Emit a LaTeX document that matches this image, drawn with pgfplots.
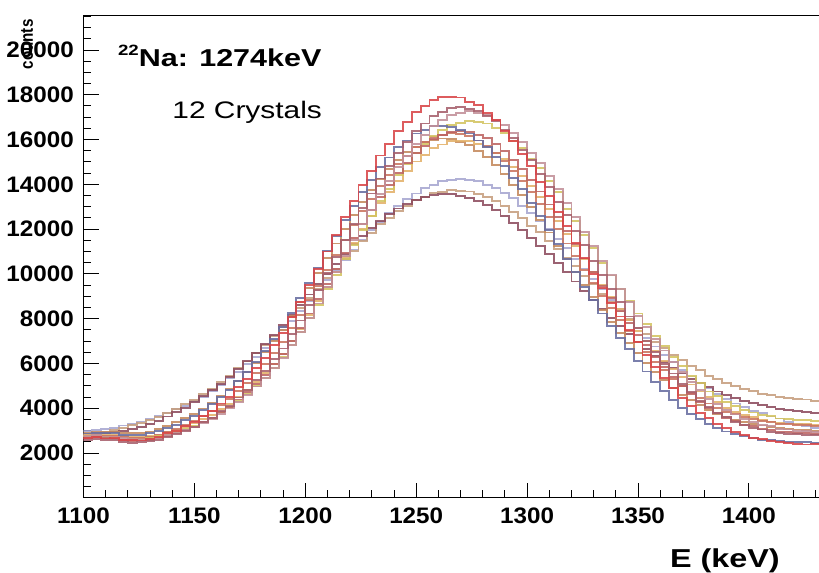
\documentclass[border=0pt]{standalone}
\usepackage{pgfplots}
\pgfplotsset{compat=1.18}
\usepackage{fontspec}
\setmainfont{Liberation Sans}
\newfontfamily\tickfont{Liberation Sans}[FakeStretch=1.08]
\newfontfamily\widefont{Liberation Sans}[FakeStretch=1.25]
\newfontfamily\titlefont{Liberation Sans}[FakeStretch=1.25]
\newfontfamily\narrowfont{Liberation Sans}[FakeStretch=0.85]
\definecolor{c1}{HTML}{D84548}
\definecolor{c2}{HTML}{A6606C}
\definecolor{c3}{HTML}{C28F98}
\definecolor{c4}{HTML}{D3C461}
\definecolor{c5}{HTML}{686DA0}
\definecolor{c6}{HTML}{C9745F}
\definecolor{c7}{HTML}{E3B069}
\definecolor{c8}{HTML}{C4895C}
\definecolor{c9}{HTML}{BD6462}
\definecolor{c10}{HTML}{A6A6D0}
\definecolor{c11}{HTML}{C69E7E}
\definecolor{c12}{HTML}{8D4C5E}
\begin{document}
\begin{tikzpicture}
\useasboundingbox (-83.5bp,-75.2bp) rectangle (735.5bp,497.8bp);
\begin{axis}[
  at={(0,0)}, anchor=south west,
  scale only axis, width=735.5bp, height=481.8bp,
  xmin=1100, xmax=1431.6, ymin=0, ymax=21520,
  axis line style={line width=1bp, black},
  tick align=inside, xtick pos=bottom, ytick pos=left,
  xtick={1100,1150,...,1400}, minor xtick={1110,1120,...,1430},
  ytick={2000,4000,...,20000}, minor ytick={500,1000,...,21500},
  major tick length=15bp, minor tick length=8bp,
  tick style={line width=1bp, black},
  scaled y ticks=false, scaled x ticks=false,
  /pgf/number format/assume math mode=true,
  /pgf/number format/1000 sep={},
  tick label style={font=\tickfont\bfseries\fontsize{22.5}{22.5}\selectfont},
  yticklabel style={anchor=east, inner sep=0pt, xshift=-9.5bp},
  xticklabel style={anchor=north, inner sep=0pt, yshift=-10bp},
  every axis plot/.append style={line width=1.9bp, const plot, no markers, opacity=0.88},
]
\addplot[c10] table[row sep=\\] {x y\\
1100 2980\\1104 3010\\1108 3090\\1112 3130\\1116 3230\\1120 3290\\1124 3410\\1128 3500\\1132 3650\\1136 3770\\
1140 3950\\1144 4100\\1148 4320\\1152 4520\\1156 4780\\1160 5020\\1164 5330\\1168 5610\\1172 5960\\1176 6300\\
1180 6680\\1184 7050\\1188 7490\\1192 7890\\1196 8360\\1200 8780\\1204 9260\\1208 9710\\1212 10190\\1216 10620\\
1220 11090\\1224 11500\\1228 11950\\1232 12310\\1236 12710\\1240 13020\\1244 13350\\1248 13590\\1252 13840\\1256 13970\\
1260 14130\\1264 14190\\1268 14240\\1272 14180\\1276 14150\\1280 13990\\1284 13850\\1288 13600\\1292 13380\\1296 13050\\
1300 12740\\1304 12340\\1308 11990\\1312 11540\\1316 11140\\1320 10670\\1324 10240\\1328 9760\\1332 9320\\1336 8840\\
1340 8420\\1344 7950\\1348 7560\\1352 7130\\1356 6760\\1360 6380\\1364 6050\\1368 5700\\1372 5420\\1376 5120\\
1380 4880\\1384 4620\\1388 4430\\1392 4210\\1396 4070\\1400 3890\\1404 3770\\1408 3630\\1412 3540\\1416 3380\\
1420 3290\\1424 3200\\1428 3130\\1432 3130\\
};
\addplot[c11] table[row sep=\\] {x y\\
1100 2800\\1104 2870\\1108 2930\\1112 3040\\1116 3110\\1120 3240\\1124 3330\\1128 3490\\1132 3610\\1136 3800\\
1140 3950\\1144 4180\\1148 4360\\1152 4630\\1156 4860\\1160 5170\\1164 5430\\1168 5780\\1172 6090\\1176 6470\\
1180 6810\\1184 7240\\1188 7610\\1192 8070\\1196 8460\\1200 8930\\1204 9340\\1208 9810\\1212 10200\\1216 10670\\
1220 11040\\1224 11490\\1228 11820\\1232 12210\\1236 12500\\1240 12830\\1244 13050\\1248 13300\\1252 13440\\1256 13610\\
1260 13670\\1264 13740\\1268 13710\\1272 13680\\1276 13560\\1280 13450\\1284 13240\\1288 13050\\1292 12770\\1296 12510\\
1300 12160\\1304 11860\\1308 11460\\1312 11120\\1316 10700\\1320 10340\\1324 9900\\1328 9530\\1332 9100\\1336 8750\\
1340 8320\\1344 7990\\1348 7600\\1352 7300\\1356 6960\\1360 6690\\1364 6370\\1368 6150\\1372 5880\\1376 5690\\
1380 5460\\1384 5310\\1388 5120\\1392 5010\\1396 4860\\1400 4780\\1404 4650\\1408 4600\\1412 4510\\1416 4470\\
1420 4400\\1424 4390\\1428 4340\\1432 4340\\
};
\addplot[c12] table[row sep=\\] {x y\\
1100 2750\\1104 2820\\1108 2880\\1112 2950\\1116 3000\\1120 3070\\1124 3170\\1128 3290\\1132 3450\\1136 3630\\
1140 3820\\1144 4030\\1148 4270\\1152 4530\\1156 4810\\1160 5090\\1164 5410\\1168 5750\\1172 6110\\1176 6480\\
1180 6870\\1184 7270\\1188 7700\\1192 8150\\1196 8610\\1200 9080\\1204 9540\\1208 10000\\1212 10450\\1216 10890\\
1220 11320\\1224 11690\\1228 12040\\1232 12370\\1236 12660\\1240 12920\\1244 13130\\1248 13300\\1252 13440\\1256 13520\\
1260 13560\\1264 13550\\1268 13500\\1272 13390\\1276 13250\\1280 13070\\1284 12840\\1288 12590\\1292 12290\\1296 11970\\
1300 11620\\1304 11250\\1308 10870\\1312 10470\\1316 10070\\1320 9660\\1324 9250\\1328 8840\\1332 8450\\1336 8050\\
1340 7680\\1344 7320\\1348 6980\\1352 6650\\1356 6340\\1360 6060\\1364 5800\\1368 5550\\1372 5320\\1376 5120\\
1380 4930\\1384 4750\\1388 4600\\1392 4450\\1396 4330\\1400 4220\\1404 4130\\1408 4040\\1412 3980\\1416 3910\\
1420 3860\\1424 3820\\1428 3780\\1432 3780\\
};
\addplot[c8] table[row sep=\\] {x y\\
1100 2910\\1104 2950\\1108 2940\\1112 2950\\1116 2900\\1120 2880\\1124 2910\\1128 2960\\1132 3080\\1136 3210\\
1140 3370\\1144 3550\\1148 3750\\1152 3990\\1156 4240\\1160 4530\\1164 4860\\1168 5230\\1172 5610\\1176 6040\\
1180 6500\\1184 7000\\1188 7510\\1192 8120\\1196 8740\\1200 9390\\1204 10030\\1208 10710\\1212 11360\\1216 12020\\
1220 12650\\1224 13230\\1228 13750\\1232 14250\\1236 14690\\1240 15090\\1244 15430\\1248 15680\\1252 15880\\1256 16000\\
1260 16050\\1264 16010\\1268 15910\\1272 15760\\1276 15500\\1280 15220\\1284 14850\\1288 14450\\1292 13990\\1296 13520\\
1300 12980\\1304 12420\\1308 11850\\1312 11260\\1316 10670\\1320 10080\\1324 9500\\1328 8950\\1332 8400\\1336 7870\\
1340 7380\\1344 6910\\1348 6450\\1352 6010\\1356 5620\\1360 5250\\1364 4920\\1368 4600\\1372 4350\\1376 4130\\
1380 3930\\1384 3750\\1388 3610\\1392 3490\\1396 3390\\1400 3300\\1404 3230\\1408 3170\\1412 3120\\1416 3080\\
1420 3050\\1424 3030\\1428 3000\\1432 3000\\
};
\addplot[c7] table[row sep=\\] {x y\\
1100 2820\\1104 2850\\1108 2820\\1112 2820\\1116 2750\\1120 2710\\1124 2710\\1128 2750\\1132 2820\\1136 2930\\
1140 3030\\1144 3180\\1148 3320\\1152 3510\\1156 3700\\1160 3950\\1164 4190\\1168 4490\\1172 4810\\1176 5180\\
1180 5560\\1184 5990\\1188 6440\\1192 7000\\1196 7550\\1200 8160\\1204 8780\\1208 9430\\1212 10070\\1216 10740\\
1220 11380\\1224 12000\\1228 12570\\1232 13150\\1236 13670\\1240 14170\\1244 14600\\1248 15020\\1252 15330\\1256 15610\\
1260 15780\\1264 15920\\1268 15950\\1272 15930\\1276 15820\\1280 15680\\1284 15410\\1288 15140\\1292 14770\\1296 14380\\
1300 13910\\1304 13440\\1308 12900\\1312 12370\\1316 11800\\1320 11240\\1324 10650\\1328 10090\\1332 9500\\1336 8980\\
1340 8430\\1344 7930\\1348 7440\\1352 7000\\1356 6540\\1360 6120\\1364 5740\\1368 5380\\1372 5060\\1376 4750\\
1380 4500\\1384 4280\\1388 4020\\1392 3840\\1396 3690\\1400 3590\\1404 3490\\1408 3410\\1412 3340\\1416 3320\\
1420 3300\\1424 3280\\1428 3260\\1432 3260\\
};
\addplot[c6] table[row sep=\\] {x y\\
1100 2740\\1104 2780\\1108 2750\\1112 2760\\1116 2700\\1120 2670\\1124 2680\\1128 2730\\1132 2820\\1136 2950\\
1140 3080\\1144 3250\\1148 3420\\1152 3650\\1156 3870\\1160 4150\\1164 4430\\1168 4790\\1172 5140\\1176 5570\\
1180 5980\\1184 6480\\1188 6970\\1192 7570\\1196 8160\\1200 8830\\1204 9470\\1208 10170\\1212 10830\\1216 11520\\
1220 12170\\1224 12800\\1228 13360\\1232 13940\\1236 14410\\1240 14900\\1244 15280\\1248 15650\\1252 15890\\1256 16120\\
1260 16220\\1264 16290\\1268 16230\\1272 16150\\1276 15960\\1280 15730\\1284 15400\\1288 15060\\1292 14610\\1296 14170\\
1300 13640\\1304 13130\\1308 12530\\1312 11990\\1316 11360\\1320 10790\\1324 10170\\1328 9610\\1332 9020\\1336 8490\\
1340 7940\\1344 7470\\1348 6970\\1352 6530\\1356 6080\\1360 5700\\1364 5310\\1368 5010\\1372 4670\\1376 4440\\
1380 4210\\1384 4030\\1388 3840\\1392 3730\\1396 3590\\1400 3520\\1404 3420\\1408 3380\\1412 3310\\1416 3290\\
1420 3250\\1424 3240\\1428 3220\\1432 3220\\
};
\addplot[c4] table[row sep=\\] {x y\\
1096 2750\\1100 2760\\1104 2750\\1108 2720\\1112 2670\\1116 2590\\1120 2610\\1124 2600\\1128 2680\\1132 2750\\
1136 2850\\1140 2940\\1144 3090\\1148 3210\\1152 3400\\1156 3570\\1160 3810\\1164 4040\\1168 4340\\1172 4620\\
1176 5000\\1180 5350\\1184 5800\\1188 6270\\1192 6840\\1196 7390\\1200 8020\\1204 8620\\1208 9310\\1212 9960\\
1216 10680\\1220 11300\\1224 11970\\1228 12590\\1232 13240\\1236 13810\\1240 14400\\1244 14900\\1248 15400\\1252 15790\\
1256 16170\\1260 16430\\1264 16660\\1268 16760\\1272 16850\\1276 16780\\1280 16720\\1284 16510\\1288 16300\\1292 15950\\
1296 15620\\1300 15150\\1304 14720\\1308 14170\\1312 13650\\1316 12910\\1320 12360\\1324 11720\\1328 11140\\1332 10500\\
1336 9930\\1340 9340\\1344 8800\\1348 8230\\1352 7760\\1356 7240\\1360 6780\\1364 6280\\1368 5880\\1372 5460\\
1376 5130\\1380 4750\\1384 4530\\1388 4280\\1392 4110\\1396 3920\\1400 3810\\1404 3690\\1408 3640\\1412 3540\\
1416 3520\\1420 3460\\1424 3460\\1428 3450\\1432 3450\\
};
\addplot[c9] table[row sep=\\] {x y\\
1100 2670\\1104 2700\\1108 2680\\1112 2650\\1116 2600\\1120 2550\\1124 2560\\1128 2580\\1132 2660\\1136 2770\\
1140 2870\\1144 3020\\1148 3170\\1152 3370\\1156 3570\\1160 3820\\1164 4070\\1168 4390\\1172 4720\\1176 5100\\
1180 5500\\1184 5960\\1188 6430\\1192 7010\\1196 7580\\1200 8230\\1204 8860\\1208 9550\\1212 10210\\1216 10930\\
1220 11590\\1224 12240\\1228 12840\\1232 13450\\1236 13990\\1240 14520\\1244 14970\\1248 15410\\1252 15730\\1256 16030\\
1260 16200\\1264 16350\\1268 16370\\1272 16350\\1276 16220\\1280 16060\\1284 15790\\1288 15490\\1292 15090\\1296 14670\\
1300 14180\\1304 13680\\1308 13100\\1312 12530\\1316 11920\\1320 11330\\1324 10690\\1328 10100\\1332 9480\\1336 8920\\
1340 8330\\1344 7800\\1348 7280\\1352 6810\\1356 6290\\1360 5830\\1364 5380\\1368 5000\\1372 4620\\1376 4280\\
1380 4010\\1384 3800\\1388 3580\\1392 3420\\1396 3270\\1400 3190\\1404 3080\\1408 3030\\1412 2950\\1416 2930\\
1420 2890\\1424 2890\\1428 2860\\1432 2860\\
};
\addplot[c5] table[row sep=\\] {x y\\
1100 2870\\1104 2910\\1108 2880\\1112 2890\\1116 2820\\1120 2810\\1124 2820\\1128 2890\\1132 2980\\1136 3130\\
1140 3270\\1144 3480\\1148 3660\\1152 3930\\1156 4170\\1160 4490\\1164 4820\\1168 5210\\1172 5610\\1176 6080\\
1180 6540\\1184 7090\\1188 7610\\1192 8270\\1196 8910\\1200 9610\\1204 10280\\1208 11010\\1212 11680\\1216 12390\\
1220 13040\\1224 13670\\1228 14210\\1232 14760\\1236 15200\\1240 15650\\1244 15960\\1248 16270\\1252 16430\\1256 16590\\
1260 16600\\1264 16570\\1268 16420\\1272 16270\\1276 15960\\1280 15670\\1284 15240\\1288 14820\\1292 14290\\1296 13780\\
1300 13170\\1304 12590\\1308 11950\\1312 11340\\1316 10680\\1320 10070\\1324 9420\\1328 8850\\1332 8230\\1336 7690\\
1340 7140\\1344 6650\\1348 6110\\1352 5640\\1356 5170\\1360 4770\\1364 4370\\1368 4030\\1372 3740\\1376 3520\\
1380 3290\\1384 3120\\1388 2960\\1392 2860\\1396 2750\\1400 2680\\1404 2600\\1408 2570\\1412 2520\\1416 2510\\
1420 2480\\1424 2480\\1428 2450\\1432 2450\\
};
\addplot[c3] table[row sep=\\] {x y\\
1100 2760\\1104 2790\\1108 2740\\1112 2740\\1116 2660\\1120 2620\\1124 2600\\1128 2630\\1132 2690\\1136 2790\\
1140 2880\\1144 3020\\1148 3150\\1152 3340\\1156 3510\\1160 3750\\1164 3990\\1168 4290\\1172 4590\\1176 4970\\
1180 5340\\1184 5800\\1188 6250\\1192 6830\\1196 7400\\1200 8050\\1204 8680\\1208 9400\\1212 10070\\1216 10820\\
1220 11520\\1224 12230\\1228 12860\\1232 13550\\1236 14130\\1240 14770\\1244 15270\\1248 15800\\1252 16200\\1256 16600\\
1260 16860\\1264 17090\\1268 17190\\1272 17260\\1276 17200\\1280 17110\\1284 16890\\1288 16650\\1292 16290\\1296 15910\\
1300 15420\\1304 14940\\1308 14360\\1312 13800\\1316 13150\\1320 12550\\1324 11870\\1328 11250\\1332 10570\\1336 9960\\
1340 9330\\1344 8750\\1348 8140\\1352 7630\\1356 7090\\1360 6580\\1364 6060\\1368 5630\\1372 5180\\1376 4820\\
1380 4430\\1384 4180\\1388 3920\\1392 3720\\1396 3520\\1400 3390\\1404 3260\\1408 3190\\1412 3090\\1416 3050\\
1420 2990\\1424 2970\\1428 2940\\1432 2940\\
};
\addplot[c2] table[row sep=\\] {x y\\
1100 2580\\1104 2610\\1108 2570\\1112 2590\\1116 2500\\1120 2460\\1124 2490\\1128 2520\\1132 2590\\1136 2720\\
1140 2830\\1144 2990\\1148 3150\\1152 3370\\1156 3580\\1160 3860\\1164 4120\\1168 4480\\1172 4820\\1176 5250\\
1180 5670\\1184 6180\\1188 6670\\1192 7310\\1196 7920\\1200 8620\\1204 9300\\1208 10050\\1212 10750\\1216 11530\\
1220 12240\\1224 12950\\1228 13590\\1232 14260\\1236 14840\\1240 15420\\1244 15900\\1248 16380\\1252 16720\\1256 17060\\
1260 17220\\1264 17400\\1268 17450\\1272 17360\\1276 17290\\1280 17050\\1284 16810\\1288 16430\\1292 16060\\1296 15550\\
1300 15070\\1304 14470\\1308 13900\\1312 13220\\1316 12630\\1320 11920\\1324 11300\\1328 10590\\1332 9970\\1336 9320\\
1340 8730\\1344 8100\\1348 7590\\1352 7020\\1356 6520\\1360 5980\\1364 5550\\1368 5080\\1372 4720\\1376 4320\\
1380 4060\\1384 3790\\1388 3600\\1392 3380\\1396 3260\\1400 3120\\1404 3050\\1408 2940\\1412 2910\\1416 2840\\
1420 2830\\1424 2790\\1428 2790\\1432 2790\\
};
\addplot[c1] table[row sep=\\] {x y\\
1100 2660\\1104 2700\\1108 2650\\1112 2670\\1116 2590\\1120 2580\\1124 2560\\1128 2640\\1132 2720\\1136 2880\\
1140 3000\\1144 3210\\1148 3380\\1152 3640\\1156 3880\\1160 4210\\1164 4500\\1168 4930\\1172 5300\\1176 5800\\
1180 6260\\1184 6840\\1188 7380\\1192 8070\\1196 8730\\1200 9500\\1204 10200\\1208 11000\\1212 11730\\1216 12540\\
1220 13250\\1224 13990\\1228 14610\\1232 15290\\1236 15810\\1240 16380\\1244 16800\\1248 17230\\1252 17480\\1256 17750\\
1260 17900\\1264 17920\\1268 17880\\1272 17690\\1276 17540\\1280 17190\\1284 16880\\1288 16400\\1292 15940\\1296 15350\\
1300 14800\\1304 14120\\1308 13490\\1312 12780\\1316 12120\\1320 11380\\1324 10720\\1328 9990\\1332 9380\\1336 8690\\
1340 8100\\1344 7480\\1348 6960\\1352 6360\\1356 5860\\1360 5340\\1364 4910\\1368 4470\\1372 4110\\1376 3780\\
1380 3550\\1384 3290\\1388 3110\\1392 2920\\1396 2820\\1400 2690\\1404 2620\\1408 2530\\1412 2500\\1416 2430\\
1420 2420\\1424 2380\\1428 2390\\1432 2390\\
};
\node[anchor=base west, inner sep=0pt, font=\titlefont\bfseries\fontsize{24.5}{24.5}\selectfont]
  at (axis cs:1115.5,19280) {\raisebox{0.42em}{\fontsize{15}{15}\selectfont 22}Na: 1274keV};
\node[anchor=base west, inner sep=0pt, font=\widefont\fontsize{24}{24}\selectfont]
  at (axis cs:1140,16950) {12 Crystals};
\end{axis}
\node[rotate=90, anchor=base east, inner sep=0pt, font=\narrowfont\bfseries\fontsize{18}{18}\selectfont]
  at (-50.5bp,478.5bp) {counts};
\node[anchor=base east, inner sep=0pt, font=\widefont\bfseries\fontsize{26}{26}\selectfont]
  at (696.5bp,-69.2bp) {E (keV)};
\end{tikzpicture}
\end{document}
